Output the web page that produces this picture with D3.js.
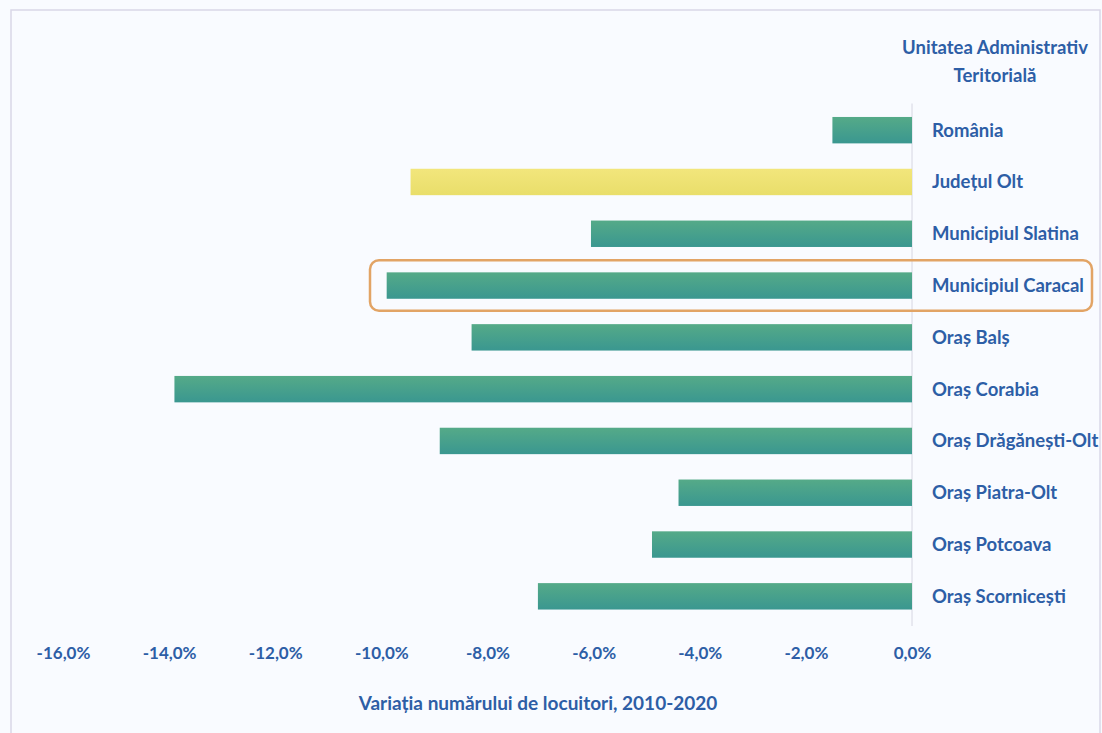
<!DOCTYPE html>
<html>
<head>
<meta charset="utf-8">
<script src="https://cdn.jsdelivr.net/npm/d3@7.9.0/dist/d3.min.js"></script>
<style>
  body { margin: 0; background: #f9fbff; }
  svg text { font-family: Lato, "Open Sans", sans-serif; font-weight: bold; fill: #2d5ea6; }
</style>
</head>
<body>
<div id="chart"></div>
<script>
// data
const categories = ["România", "Județul Olt", "Municipiul Slatina", "Municipiul Caracal", "Oraș Balș",
  "Oraș Corabia", "Oraș Drăgănești-Olt", "Oraș Piatra-Olt", "Oraș Potcoava", "Oraș Scornicești"];
const values = [-1.5, -9.45, -6.05, -9.9, -8.3, -13.9, -8.9, -4.4, -4.9, -7.05];
const highlightColor = ["green", "yellow", "green", "green", "green", "green", "green", "green", "green", "green"];
const tickValues = [-16, -14, -12, -10, -8, -6, -4, -2, 0];
const boxed = "Municipiul Caracal";

const width = 1102, height = 733;
const margin = { top: 103.5, right: 190, bottom: 110, left: 63 };

const svg = d3.select("#chart").append("svg")
  .attr("width", width)
  .attr("height", height);

const defs = svg.append("defs");
const gGreen = defs.append("linearGradient").attr("id", "gGreen").attr("x1", 0).attr("x2", 0).attr("y1", 0).attr("y2", 1);
gGreen.append("stop").attr("offset", "0%").attr("stop-color", "#55aa88");
gGreen.append("stop").attr("offset", "100%").attr("stop-color", "#3a9790");
const gYellow = defs.append("linearGradient").attr("id", "gYellow").attr("x1", 0).attr("x2", 0).attr("y1", 0).attr("y2", 1);
gYellow.append("stop").attr("offset", "0%").attr("stop-color", "#f2e67c");
gYellow.append("stop").attr("offset", "100%").attr("stop-color", "#e9de6a");

// outer frame
svg.append("rect")
  .attr("x", 11).attr("y", 10)
  .attr("width", 1089).attr("height", 740)
  .attr("fill", "#f9fbff")
  .attr("stroke", "#d9d8e8")
  .attr("stroke-width", 1.5);

const x = d3.scaleLinear().domain([-16, 0]).range([margin.left, width - margin.right]);
const y = d3.scaleBand().domain(categories).range([margin.top, height - margin.bottom]).paddingInner(0.49).paddingOuter(0.26);

// zero line
svg.append("line")
  .attr("x1", x(0)).attr("x2", x(0))
  .attr("y1", margin.top).attr("y2", height - margin.bottom + 3)
  .attr("stroke", "#d6d6e2")
  .attr("stroke-width", 1);

// bars
svg.append("g")
  .selectAll("rect")
  .data(categories)
  .enter().append("rect")
  .attr("x", (d, i) => x(values[i]))
  .attr("y", d => y(d))
  .attr("width", (d, i) => x(0) - x(values[i]))
  .attr("height", y.bandwidth())
  .attr("fill", (d, i) => highlightColor[i] === "yellow" ? "url(#gYellow)" : "url(#gGreen)");

// category labels
svg.append("g")
  .selectAll("text")
  .data(categories)
  .enter().append("text")
  .attr("x", x(0) + 20)
  .attr("y", d => y(d) + y.bandwidth() / 2)
  .attr("dy", "0.35em")
  .attr("font-size", 18.5)
  .text(d => d);

// highlight box
svg.append("rect")
  .attr("x", 370)
  .attr("y", y(boxed) - 12)
  .attr("width", 722)
  .attr("height", y.bandwidth() + 24)
  .attr("rx", 9)
  .attr("fill", "none")
  .attr("stroke", "#e2a465")
  .attr("stroke-width", 2.5);

// x axis
const xAxis = svg.append("g")
  .attr("transform", `translate(0, ${height - margin.bottom + 18})`)
  .call(d3.axisBottom(x).tickValues(tickValues).tickSize(0).tickFormat(d => d3.format(".1f")(d).replace(".", ",").replace("−", "-") + "%"));
xAxis.select(".domain").remove();
xAxis.selectAll("text").attr("font-size", 17).attr("dy", "0.9em");

// titles
svg.append("text")
  .attr("x", 995).attr("y", 54)
  .attr("text-anchor", "middle")
  .attr("font-size", 18.5)
  .text("Unitatea Administrativ");
svg.append("text")
  .attr("x", 995).attr("y", 82)
  .attr("text-anchor", "middle")
  .attr("font-size", 18.5)
  .text("Teritorială");
svg.append("text")
  .attr("x", 538).attr("y", 710)
  .attr("text-anchor", "middle")
  .attr("font-size", 19)
  .text("Variația numărului de locuitori, 2010-2020");
</script>
</body>
</html>
